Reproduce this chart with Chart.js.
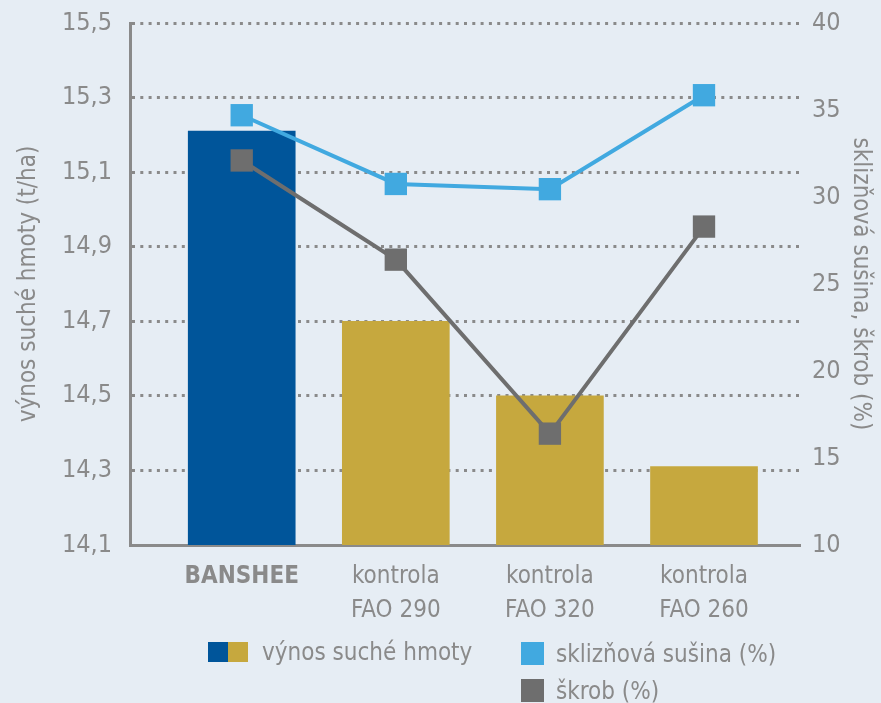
<!DOCTYPE html>
<html>
<head>
<meta charset="utf-8">
<script src="https://cdn.jsdelivr.net/npm/chart.js@4/dist/chart.umd.min.js"></script>
<style>
  body { margin: 0; background: #e6edf4; }
  #wrap { position: relative; width: 881px; height: 703px; overflow: hidden; }
  #legend { position: absolute; left: 0; top: 0; width: 881px; height: 703px; pointer-events: none;
    font-family: "DejaVu Sans Condensed", "Liberation Sans Narrow", sans-serif; font-size: 24px; color: #8a8a8a; }
  .item { position: absolute; display: flex; align-items: center; white-space: nowrap; }
  .box { display: inline-block; }
</style>
</head>
<body>
<div id="wrap">
  <canvas id="chart" width="881" height="703"></canvas>
  <div id="legend"></div>
</div>
<script>
const categories = ["BANSHEE", ["kontrola", "FAO 290"], ["kontrola", "FAO 320"], ["kontrola", "FAO 260"]];
const yieldValues = [15.21, 14.70, 14.50, 14.31];
const dryMatter = [34.7, 30.75, 30.45, 35.85];
const starch = [32.1, 26.4, 16.4, 28.3];
const yieldTicks = [14.1, 14.3, 14.5, 14.7, 14.9, 15.1, 15.3, 15.5];
const percentTicks = [10, 15, 20, 25, 30, 35, 40];

const barColors = ["#00559a", "#c6a83e", "#c6a83e", "#c6a83e"];
const blue = "#41a9e0";
const darkGray = "#6e6e6e";
const textGray = "#8a8a8a";
const fontFamily = '"DejaVu Sans Condensed", "Liberation Sans Narrow", sans-serif';

Chart.defaults.font.family = fontFamily;
Chart.defaults.color = textGray;

const toPoints = (arr) => arr.map((v, i) => ({ x: i, y: v }));

const ctx = document.getElementById("chart");

const config = {
  type: "bar",
  data: {
    datasets: [
      {
        type: "line",
        label: "sklizňová sušina (%)",
        data: toPoints(dryMatter),
        yAxisID: "y2",
        borderColor: blue,
        backgroundColor: blue,
        borderWidth: 4,
        pointStyle: "rect",
        pointRadius: 15.8,
        pointBorderWidth: 0,
        pointBackgroundColor: blue,
        order: 0,
      },
      {
        type: "line",
        label: "škrob (%)",
        data: toPoints(starch),
        yAxisID: "y2",
        borderColor: darkGray,
        backgroundColor: darkGray,
        borderWidth: 4,
        pointStyle: "rect",
        pointRadius: 15.8,
        pointBorderWidth: 0,
        pointBackgroundColor: darkGray,
        order: 0,
      },
      {
        label: "výnos suché hmoty",
        data: toPoints(yieldValues),
        yAxisID: "y",
        backgroundColor: barColors,
        borderWidth: 0,
        barThickness: 107,
        order: 1,
      },
    ],
  },
  options: {
    responsive: false,
    animation: false,
    layout: { autoPadding: false, padding: { top: 23, left: 0, right: 0, bottom: 0 } },
    plugins: {
      legend: { display: false },
      tooltip: { enabled: false },
    },
    scales: {
      x: {
        type: "linear",
        position: "bottom",
        offset: false,
        min: -0.725,
        max: 3.623,
        afterBuildTicks: (scale) => {
          scale.ticks = categories.map((c, i) => ({ value: i }));
        },
        afterFit: (scale) => {
          scale.height = 158;
          scale.paddingLeft = 0;
          scale.paddingRight = 0;
        },
        grid: { display: false },
        border: { display: true, color: textGray, width: 3 },
        ticks: {
          autoSkip: false,
          maxRotation: 0,
          padding: 7,
          color: textGray,
          callback: (value, index) => categories[index],
          font: (c) => ({
            family: fontFamily,
            size: 24,
            lineHeight: 1.4,
            weight: c.index === 0 ? "bold" : "normal",
          }),
        },
      },
      y: {
        position: "left",
        min: 14.1,
        max: 15.5,
        afterBuildTicks: (scale) => {
          scale.ticks = yieldTicks.map((v) => ({ value: v }));
        },
        afterFit: (scale) => {
          scale.width = 130;
          scale.paddingTop = 0;
          scale.paddingBottom = 0;
        },
        grid: {
          drawTicks: false,
          lineWidth: 3,
          color: (c) => (c.index === 0 ? "rgba(0,0,0,0)" : textGray),
        },
        border: { display: true, color: textGray, width: 3, dash: [3, 5.3] },
        ticks: {
          padding: 18,
          color: textGray,
          font: { size: 25 },
          callback: (v) => Number(v).toFixed(1).replace(".", ","),
        },
        title: {
          display: true,
          text: "výnos suché hmoty (t/ha)",
          color: textGray,
          font: { size: 24, lineHeight: 1.2 },
          padding: 14,
        },
      },
      y2: {
        position: "right",
        min: 10,
        max: 40,
        afterBuildTicks: (scale) => {
          scale.ticks = percentTicks.map((v) => ({ value: v }));
        },
        afterFit: (scale) => {
          scale.width = 81;
          scale.paddingTop = 0;
          scale.paddingBottom = 0;
        },
        grid: { display: false, drawTicks: false },
        border: { display: false },
        ticks: {
          padding: 12,
          color: textGray,
          font: { size: 25 },
        },
        title: {
          display: true,
          text: "sklizňová sušina, škrob (%)",
          color: textGray,
          font: { size: 24, lineHeight: 1.2 },
          padding: 6,
        },
      },
    },
  },
};

const chart = new Chart(ctx, config);

// legend laid out like the original: bar series on the left, lines stacked on the right
function buildLegend() {
  const legend = document.getElementById("legend");
  const places = {
    "výnos suché hmoty": { left: 208, top: 642, box: 20, gap: 14 },
    "sklizňová sušina (%)": { left: 521, top: 642, box: 23, gap: 12 },
    "škrob (%)": { left: 521, top: 679, box: 23, gap: 12 },
  };
  chart.data.datasets.forEach((ds) => {
    const p = places[ds.label];
    const item = document.createElement("div");
    item.className = "item";
    item.style.left = p.left + "px";
    item.style.top = p.top + "px";
    item.style.height = p.box + "px";
    const colors = Array.isArray(ds.backgroundColor)
      ? [...new Set(ds.backgroundColor)]
      : [ds.backgroundColor];
    colors.forEach((col) => {
      const b = document.createElement("span");
      b.className = "box";
      b.style.width = p.box + "px";
      b.style.height = p.box + "px";
      b.style.background = col;
      item.appendChild(b);
    });
    const t = document.createElement("span");
    t.textContent = ds.label;
    t.style.marginLeft = p.gap + "px";
    item.appendChild(t);
    legend.appendChild(item);
  });
}
buildLegend();
</script>
</body>
</html>
